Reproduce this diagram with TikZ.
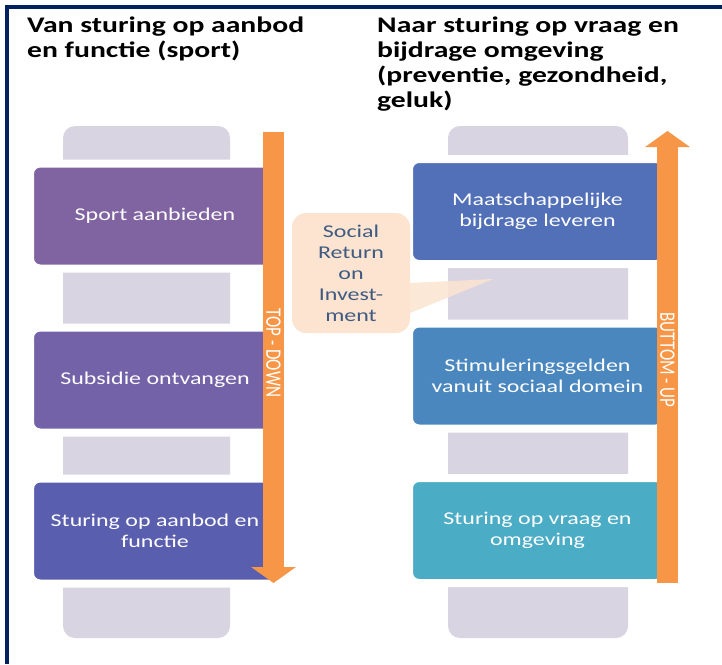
\documentclass[tikz,border=0pt]{standalone}
\usepackage{fontspec}
\setmainfont[FakeStretch=1.33]{Carlito}
\newfontfamily\rotfont{Carlito}
\usetikzlibrary{arrows.meta}
\definecolor{navy}{HTML}{002060}
\definecolor{colgray}{HTML}{D8D4E2}
\definecolor{arrorange}{HTML}{F79646}
\definecolor{callfill}{HTML}{FCE4D0}
\definecolor{sroitext}{HTML}{3F5B83}
\definecolor{lone}{HTML}{8064A2}
\definecolor{ltwo}{HTML}{7462A8}
\definecolor{lthree}{HTML}{5A5EAF}
\definecolor{rone}{HTML}{5270B7}
\definecolor{rtwo}{HTML}{4A87BE}
\definecolor{rthree}{HTML}{4BACC6}
\tikzset{
  col/.style={fill=colgray,rounded corners=12pt},
  box/.style={draw=white,line width=8pt,rounded corners=10pt,text=white,align=center,
    minimum height=105pt,font=\fontsize{18}{21.5}\selectfont},
  bigarrow/.style={draw=arrorange,line width=21pt,-{Triangle[width=44pt,length=16pt]}},
  head/.style={anchor=north west,inner sep=0pt,align=left,font=\fontsize{22.3}{25}\selectfont\bfseries},
  updown/.style={rotate=-90,text=white,inner sep=0pt,font=\rotfont\fontsize{17}{17}\selectfont}
}
\begin{document}
\begin{tikzpicture}[x=1pt,y=-1pt]
\useasboundingbox (0,0) rectangle (722,664);
\draw[navy,line width=4pt] (7,664) -- (7,7) -- (724,7);
\node[head](vantitle) at (27,17) {Van sturing op aanbod\\en functie (sport)};
\node[head](naartitle) at (377,17) {Naar sturing op vraag en\\bijdrage omgeving\\(preventie, gezondheid,\\geluk)};
% grijze kolommen
\fill[col] (63,126) rectangle (230,638);
\fill[col] (448,126) rectangle (628,638);
% links: aanbod
\node[box,fill=lone,minimum width=250pt](l1) at (155,216) {Sport aanbieden};
\node[box,fill=ltwo,minimum width=250pt](l2) at (155,380) {Subsidie ontvangen};
\node[box,fill=lthree,minimum width=250pt](l3) at (155,531) {Sturing op aanbod en\\functie};
% rechts: vraag
\node[box,fill=rone,minimum width=257pt](r1) at (537.5,211.5) {Maatschappelijke\\bijdrage leveren};
\node[box,fill=rtwo,minimum width=257pt](r2) at (537.5,376) {Stimuleringsgelden\\vanuit sociaal domein};
\node[box,fill=rthree,minimum width=257pt](r3) at (537.5,530.5) {Sturing op vraag en\\omgeving};
% SROI
\node[fill=callfill,rounded corners=14pt,minimum width=118pt,minimum height=120pt,text=sroitext,
  align=center,font=\fontsize{18}{21}\selectfont](sroi) at (351,273) {Social\\Return\\on\\Invest-\\ment};
\coordinate (tip) at (493,279);
\fill[callfill,fill opacity=.85] ([yshift=-10pt]sroi.east) -- (tip) -- ([yshift=-40pt]sroi.east) -- cycle;
% pijlen
\coordinate (tdtop) at (273.5,132); \coordinate (tdbot) at (273.5,583);
\coordinate (bubot) at (667.5,583); \coordinate (butop) at (667.5,131);
\draw[bigarrow] (tdtop) -- node[updown,pos=.49](tdlabel){\scalebox{1}[1.3]{TOP - DOWN}} (tdbot);
\draw[bigarrow] (bubot) -- node[updown,pos=.493](bulabel){\scalebox{1}[1.3]{BUTTOM - UP}} (butop);
\end{tikzpicture}
\end{document}
